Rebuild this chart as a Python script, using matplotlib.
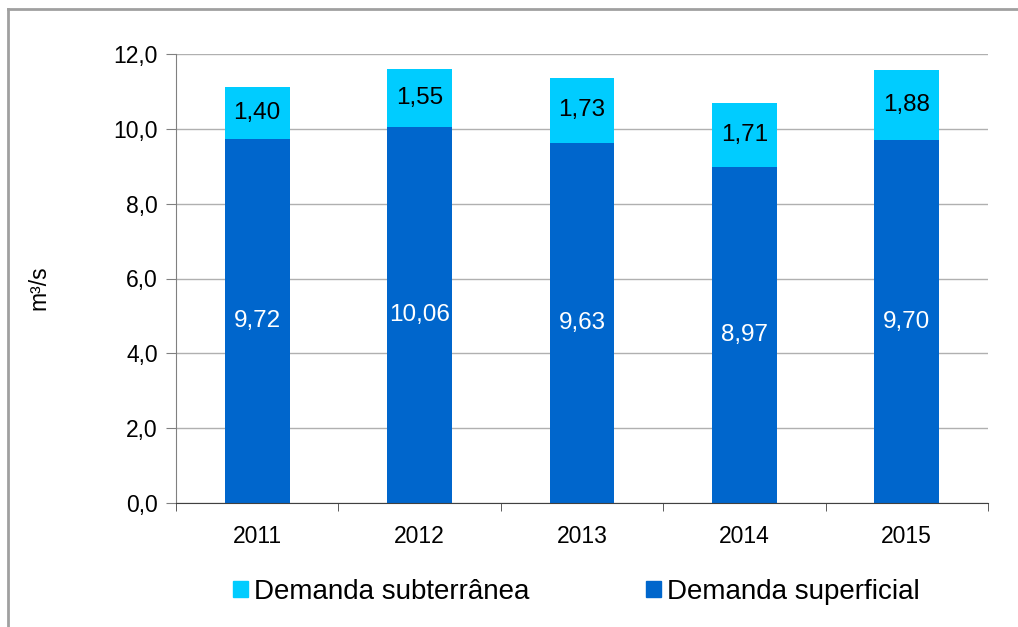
import numpy as np
import matplotlib.pyplot as plt
from matplotlib.lines import Line2D
from matplotlib.patches import Patch

plt.rcParams['font.family'] = ['Liberation Sans', 'DejaVu Sans']

anos = ['2011', '2012', '2013', '2014', '2015']
superficial = [9.72, 10.06, 9.63, 8.97, 9.70]
subterranea = [1.40, 1.55, 1.73, 1.71, 1.88]

cor_sup = '#0066CC'
cor_sub = '#00CCFF'

fig = plt.figure(figsize=(10.18, 6.27), dpi=100)
ax = fig.add_axes([176/1018, 1 - 503/627, (988-176)/1018, (503-54)/627])

x = np.arange(len(anos))
b1 = ax.bar(x, superficial, width=0.4, color=cor_sup, zorder=2)
b2 = ax.bar(x, subterranea, width=0.4, bottom=superficial, color=cor_sub, zorder=2)

for xi, s, t in zip(x, superficial, subterranea):
    ax.text(xi, s / 2, f'{s:.2f}'.replace('.', ','), ha='center', va='center',
            color='white', fontsize=17.5)
    ax.text(xi, s + t / 2, f'{t:.2f}'.replace('.', ','), ha='center', va='center',
            color='black', fontsize=17.5)

ax.set_xlim(-0.5, len(anos) - 0.5)
ax.set_ylim(0, 12)
ax.set_yticks(np.arange(0, 12.1, 2))
ax.set_yticklabels([f'{v:.1f}'.replace('.', ',') for v in np.arange(0, 12.1, 2)], fontsize=16.5)
ax.set_xticks(x)
ax.set_xticklabels(anos, fontsize=16.5)
ax.set_xticks(np.arange(-0.5, len(anos), 1), minor=True)
ax.tick_params(axis='x', which='major', length=0, pad=16)
ax.tick_params(axis='x', which='minor', length=6, direction='out', color='#404040')
ax.tick_params(axis='y', length=7, direction='out', color='#808080', pad=6)

ax.grid(axis='y', color='#B0B0B0', linewidth=1, zorder=0)
ax.spines['top'].set_visible(False)
ax.spines['right'].set_visible(False)
ax.spines['left'].set_color('#808080')
ax.spines['bottom'].set_color('#404040')

ax.set_ylabel('m³/s', fontsize=16.5)
ax.yaxis.set_label_coords(-126/812, 0.48)

handles = [Patch(color=cor_sub), Patch(color=cor_sup)]
fig.legend(handles, ['Demanda subterrânea', 'Demanda superficial'],
           loc='center', bbox_to_anchor=(0.566, 1 - 592/627), ncol=2, frameon=False,
           fontsize=20, handlelength=0.54, handleheight=0.54, handletextpad=0.22,
           columnspacing=4.2)

# moldura do grafico
fig.add_artist(Line2D([8/1018, 8/1018], [0, 1 - 9/627], color='#A0A0A0', linewidth=2))
fig.add_artist(Line2D([8/1018, 1], [1 - 9/627, 1 - 9/627], color='#A0A0A0', linewidth=2))

fig.savefig('out.png', dpi=100)
